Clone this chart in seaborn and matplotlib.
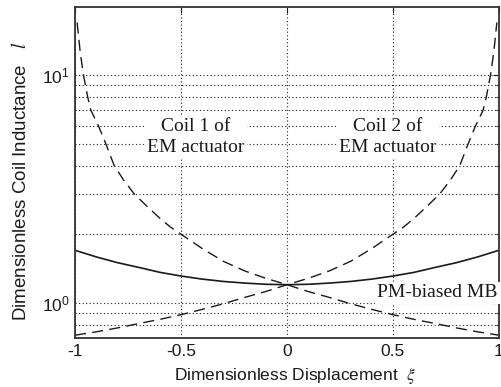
import numpy as np
import pandas as pd
import matplotlib
matplotlib.use("Agg")
import matplotlib.pyplot as plt
import seaborn as sns

# ---- data ----
xi_coil1 = [-0.99, -0.975, -0.96, -0.94, -0.925, -0.89, -0.855, -0.815, -0.77, -0.72,
            -0.66, -0.6, -0.55, -0.5, -0.4, -0.3, -0.2, -0.1, 0.0,
            0.1, 0.2, 0.3, 0.4, 0.5, 0.6, 0.7, 0.8, 0.9, 1.0]
l_coil1 = [17.0, 12.5, 10.0, 8.0, 7.0, 6.0, 5.0, 4.0, 3.45, 3.0,
           2.65, 2.35, 2.15, 2.0, 1.73, 1.52, 1.38, 1.28, 1.2,
           1.12, 1.055, 0.99, 0.935, 0.886, 0.845, 0.81, 0.775, 0.745, 0.72]
xi_coil2 = [-1.0, -0.9, -0.8, -0.7, -0.6, -0.5, -0.4, -0.3, -0.2, -0.1,
            0.0, 0.1, 0.2, 0.3, 0.4, 0.5, 0.55, 0.6, 0.66, 0.72,
            0.77, 0.815, 0.855, 0.89, 0.925, 0.94, 0.96, 0.975, 0.99]
l_coil2 = [0.72, 0.745, 0.775, 0.81, 0.845, 0.886, 0.935, 0.99, 1.055, 1.12,
           1.2, 1.28, 1.38, 1.52, 1.73, 2.0, 2.15, 2.35, 2.65, 3.0,
           3.45, 4.0, 5.0, 6.0, 7.0, 8.0, 10.0, 12.5, 17.0]
xi_mb = [-1.0, -0.9, -0.8, -0.7, -0.6, -0.5, -0.4, -0.3, -0.2, -0.1, 0.0,
         0.1, 0.2, 0.3, 0.4, 0.5, 0.6, 0.7, 0.8, 0.9, 1.0]
l_mb = [1.70, 1.59, 1.50, 1.43, 1.36, 1.31, 1.27, 1.24, 1.22, 1.205, 1.20,
        1.205, 1.22, 1.24, 1.27, 1.31, 1.36, 1.43, 1.50, 1.59, 1.70]

x_ticks = [-1, -0.5, 0, 0.5, 1]
x_ticklabels = ["-1", "-0.5", "0", "0.5", "1"]
y_ticks = [1, 10]
y_ticklabels = [r"$\mathregular{10^{0}}$", r"$\mathregular{10^{1}}$"]

sns.set_style("white")
plt.rcParams["font.family"] = ["Liberation Sans", "DejaVu Sans"]
plt.rcParams["mathtext.fontset"] = "stix"

fig = plt.figure(figsize=(5.01, 3.87), dpi=100)
ax = fig.add_axes([0.1497, 0.1266, 0.8463, 0.8554])

df1 = pd.DataFrame({"xi": xi_coil1, "l": l_coil1})
df2 = pd.DataFrame({"xi": xi_coil2, "l": l_coil2})
df3 = pd.DataFrame({"xi": xi_mb, "l": l_mb})

ink = "#1a1a1a"
dash = (0, (8, 4.5))
sns.lineplot(data=df1, x="xi", y="l", ax=ax, color=ink, lw=1.0, linestyle=dash, sort=False)
sns.lineplot(data=df2, x="xi", y="l", ax=ax, color=ink, lw=1.0, linestyle=dash, sort=False)
sns.lineplot(data=df3, x="xi", y="l", ax=ax, color=ink, lw=1.2, sort=False)

ax.set_yscale("log")
ax.set_xlim(-1, 1)
ax.set_ylim(0.70, 19.9)
ax.set_xticks(x_ticks)
ax.set_xticklabels(x_ticklabels)
ax.set_yticks(y_ticks)
ax.set_yticklabels(y_ticklabels)
ax.yaxis.set_minor_locator(matplotlib.ticker.LogLocator(base=10, subs=np.arange(2, 10)))
ax.yaxis.set_minor_formatter(matplotlib.ticker.NullFormatter())

ax.grid(True, which="both", axis="y", linestyle=(0, (1, 2.2)), color="#222222", lw=0.8)
ax.grid(True, which="major", axis="x", linestyle=(0, (1, 2.2)), color="#222222", lw=0.8)

ax.tick_params(which="both", direction="in", top=True, right=True, labelsize=12.5,
               colors=ink, width=0.8)
ax.tick_params(which="major", length=4, pad=4)
ax.tick_params(which="minor", length=2)
for s in ax.spines.values():
    s.set_color("#333333")
    s.set_linewidth(1.3)

ax.set_xlabel(r"Dimensionless Displacement  $\xi$", fontsize=12.5, color=ink)
ax.set_ylabel(r"Dimensionless Coil Inductance   $l$", fontsize=13.5, color=ink)
ax.xaxis.set_label_coords(0.52, -0.085)
ax.yaxis.set_label_coords(-0.106, 0.474)

box = dict(facecolor="white", edgecolor="none", pad=2)
ax.text(-0.43, 5.35, "Coil 1 of\nEM actuator", family="Liberation Serif", fontsize=14,
        ha="center", va="center", linespacing=1.25, bbox=box, color=ink)
ax.text(0.476, 5.35, "Coil 2 of\nEM actuator", family="Liberation Serif", fontsize=14,
        ha="center", va="center", linespacing=1.25, bbox=box, color=ink)
ax.text(0.995, 1.105, "PM-biased MB", family="Liberation Serif", fontsize=14,
        ha="right", va="center", bbox=box, color=ink)

fig.savefig("out.png", dpi=100)
